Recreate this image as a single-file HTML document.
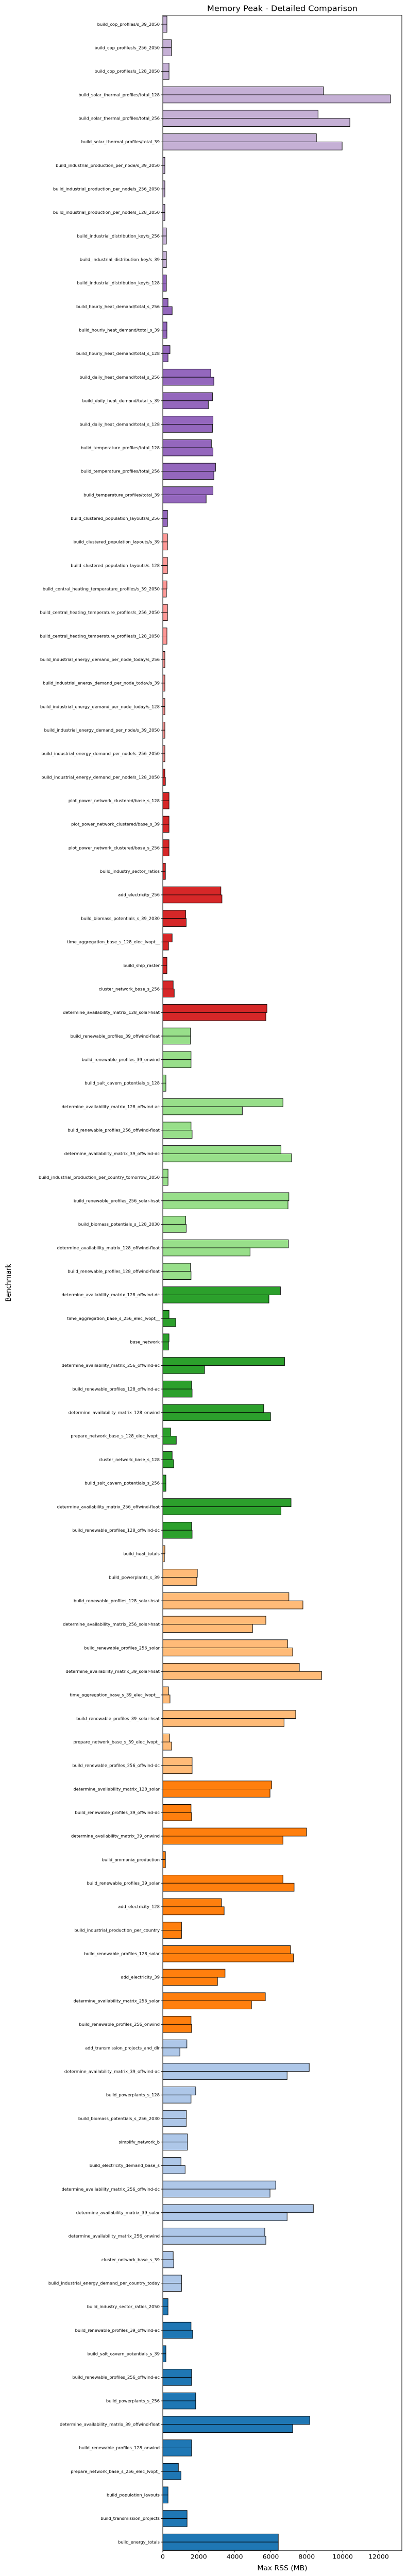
<!DOCTYPE html>
<html><head><meta charset="utf-8"><title>Memory Peak - Detailed Comparison</title>
<style>
html,body{margin:0;padding:0;background:#fff;width:100%;height:100%;overflow:hidden;}
svg{display:block;position:fixed;left:0;top:0;width:100vw;height:100vh;font-family:"DejaVu Sans","Liberation Sans",sans-serif;}
</style></head>
<body>
<svg id="chart" width="790" height="5390" viewBox="0 0 790 5390" preserveAspectRatio="none" xmlns="http://www.w3.org/2000/svg">
<text x="548" y="23" font-size="16" text-anchor="middle" fill="#000">Memory Peak - Detailed Comparison</text>
<text x="0" y="0" font-size="13.9" text-anchor="middle" fill="#000" transform="translate(21,2684) rotate(-90)">Benchmark</text>
<text x="548" y="5378" font-size="13.9" text-anchor="middle" fill="#000">Max RSS (MB)</text>
<g id="bars"></g>
<g id="yticks"></g>
<g id="xticks"></g>
<rect x="316" y="32" width="464" height="5305" fill="none" stroke="#000" stroke-width="1"/>
</svg>
<script>
const categories = [
"build_cop_profiles/s_39_2050","build_cop_profiles/s_256_2050","build_cop_profiles/s_128_2050",
"build_solar_thermal_profiles/total_128","build_solar_thermal_profiles/total_256","build_solar_thermal_profiles/total_39",
"build_industrial_production_per_node/s_39_2050","build_industrial_production_per_node/s_256_2050","build_industrial_production_per_node/s_128_2050",
"build_industrial_distribution_key/s_256","build_industrial_distribution_key/s_39","build_industrial_distribution_key/s_128",
"build_hourly_heat_demand/total_s_256","build_hourly_heat_demand/total_s_39","build_hourly_heat_demand/total_s_128",
"build_daily_heat_demand/total_s_256","build_daily_heat_demand/total_s_39","build_daily_heat_demand/total_s_128",
"build_temperature_profiles/total_128","build_temperature_profiles/total_256","build_temperature_profiles/total_39",
"build_clustered_population_layouts/s_256","build_clustered_population_layouts/s_39","build_clustered_population_layouts/s_128",
"build_central_heating_temperature_profiles/s_39_2050","build_central_heating_temperature_profiles/s_256_2050","build_central_heating_temperature_profiles/s_128_2050",
"build_industrial_energy_demand_per_node_today/s_256","build_industrial_energy_demand_per_node_today/s_39","build_industrial_energy_demand_per_node_today/s_128",
"build_industrial_energy_demand_per_node/s_39_2050","build_industrial_energy_demand_per_node/s_256_2050","build_industrial_energy_demand_per_node/s_128_2050",
"plot_power_network_clustered/base_s_128","plot_power_network_clustered/base_s_39","plot_power_network_clustered/base_s_256",
"build_industry_sector_ratios","add_electricity_256","build_biomass_potentials_s_39_2030","time_aggregation_base_s_128_elec_lvopt__",
"build_ship_raster","cluster_network_base_s_256","determine_availability_matrix_128_solar-hsat",
"build_renewable_profiles_39_offwind-float","build_renewable_profiles_39_onwind","build_salt_cavern_potentials_s_128",
"determine_availability_matrix_128_offwind-ac","build_renewable_profiles_256_offwind-float","determine_availability_matrix_39_offwind-dc",
"build_industrial_production_per_country_tomorrow_2050","build_renewable_profiles_256_solar-hsat","build_biomass_potentials_s_128_2030",
"determine_availability_matrix_128_offwind-float","build_renewable_profiles_128_offwind-float","determine_availability_matrix_128_offwind-dc",
"time_aggregation_base_s_256_elec_lvopt__","base_network","determine_availability_matrix_256_offwind-ac",
"build_renewable_profiles_128_offwind-ac","determine_availability_matrix_128_onwind","prepare_network_base_s_128_elec_lvopt_",
"cluster_network_base_s_128","build_salt_cavern_potentials_s_256","determine_availability_matrix_256_offwind-float",
"build_renewable_profiles_128_offwind-dc","build_heat_totals","build_powerplants_s_39",
"build_renewable_profiles_128_solar-hsat","determine_availability_matrix_256_solar-hsat","build_renewable_profiles_256_solar",
"determine_availability_matrix_39_solar-hsat","time_aggregation_base_s_39_elec_lvopt__","build_renewable_profiles_39_solar-hsat",
"prepare_network_base_s_39_elec_lvopt_","build_renewable_profiles_256_offwind-dc","determine_availability_matrix_128_solar",
"build_renewable_profiles_39_offwind-dc","determine_availability_matrix_39_onwind","build_ammonia_production",
"build_renewable_profiles_39_solar","add_electricity_128","build_industrial_production_per_country",
"build_renewable_profiles_128_solar","add_electricity_39","determine_availability_matrix_256_solar",
"build_renewable_profiles_256_onwind","add_transmission_projects_and_dlr","determine_availability_matrix_39_offwind-ac",
"build_powerplants_s_128","build_biomass_potentials_s_256_2030","simplify_network_b",
"build_electricity_demand_base_s","determine_availability_matrix_256_offwind-dc","determine_availability_matrix_39_solar",
"determine_availability_matrix_256_onwind","cluster_network_base_s_39","build_industrial_energy_demand_per_country_today",
"build_industry_sector_ratios_2050","build_renewable_profiles_39_offwind-ac","build_salt_cavern_potentials_s_39",
"build_renewable_profiles_256_offwind-ac","build_powerplants_s_256","determine_availability_matrix_39_offwind-float",
"build_renewable_profiles_128_onwind","prepare_network_base_s_256_elec_lvopt_","build_population_layouts",
"build_transmission_projects","build_energy_totals"
];
const seriesA = [
230,476,346, 8930,8630,8540, 115,115,115, 200,200,200, 290,230,400, 2670,2760,2790, 2700,2930,2790,
260,260,260, 230,260,230, 115,115,115, 115,115,115, 346,346,346, 145,3230,1270,520,
230,577,5790, 1540,1570,173, 6680,1570,6570, 290,7010,1270, 6980,1540,6540, 346,346,6770,
1600,5610,433, 520,173,7130, 1600,115,1920, 7010,5730,6940, 7590,317,7390, 375,1630,6050,
1570,7990,145, 6680,3260,1040, 7100,3460,5700, 1570,1340,8140, 1830,1310,1370, 1010,6280,8370,
5670,577,1040, 290,1570,173, 1600,1830,8170, 1600,866,290, 1350,6420
];
const seriesB = [
230,476,346, 12660,10400,9970, 115,115,115, 200,200,200, 520,230,290, 2840,2530,2760, 2790,2840,2410,
260,260,260, 200,260,230, 115,115,115, 115,115,145, 346,346,346, 145,3290,1300,317,
230,635,5730, 1540,1570,173, 4420,1630,7160, 290,6960,1300, 4850,1570,5900, 720,317,2320,
1630,5990,750, 606,173,6570, 1630,87,1890, 7790,4990,7220, 8830,400,6740, 490,1630,5960,
1600,6680,145, 7300,3410,1040, 7270,3040,4930, 1600,950,6910, 1570,1300,1370, 1240,5960,6910,
5730,606,1040, 290,1660,173, 1600,1830,7220, 1600,1010,290, 1350,6420
];
const groupColors = ["#c5b0d5","#9467bd","#ff9896","#d62728","#98df8a","#2ca02c","#ffbb78","#ff7f0e","#aec7e8","#1f77b4"];
const groupSizes = [11,11,10,11,11,11,10,11,11,11];
const xTicks = [0,2000,4000,6000,8000,10000,12000];

const NS = "http://www.w3.org/2000/svg";
const AX = {left:316, right:780, top:32, bottom:5337, xmax:13290};
const firstY = 50.7, lastY = 5319;
function xScale(v){ return AX.left + v/AX.xmax*(AX.right-AX.left); }
function yScale(i){ return firstY + i*(lastY-firstY)/(categories.length-1); }
const BARH = 17;
const colorOf = [];
groupSizes.forEach((n,g)=>{ for(let k=0;k<n;k++) colorOf.push(groupColors[g]); });

const bars = document.getElementById('bars');
const yt = document.getElementById('yticks');
categories.forEach((c,i)=>{
  const cy = yScale(i);
  const col = colorOf[i] || "#1f77b4";
  [[seriesA[i], cy-BARH, 'a'],[seriesB[i], cy, 'b']].forEach(([v,y,s])=>{
    const r = document.createElementNS(NS,'rect');
    r.setAttribute('x', AX.left);
    r.setAttribute('y', y);
    r.setAttribute('width', Math.max(0, xScale(v)-AX.left));
    r.setAttribute('height', BARH);
    r.setAttribute('fill', col);
    r.setAttribute('stroke', '#000');
    r.setAttribute('stroke-width', '1');
    
    
    bars.appendChild(r);
  });
  const tk = document.createElementNS(NS,'line');
  tk.setAttribute('x1', AX.left-3.5); tk.setAttribute('x2', AX.left);
  tk.setAttribute('y1', cy); tk.setAttribute('y2', cy);
  tk.setAttribute('stroke', '#000');
  
  
  yt.appendChild(tk);
  const t = document.createElementNS(NS,'text');
  t.setAttribute('x', AX.left-6); t.setAttribute('y', cy+3);
  t.setAttribute('font-size', '8.3');
  t.setAttribute('text-anchor', 'end');
  t.setAttribute('fill', '#000');
  
  
  t.textContent = c;
  yt.appendChild(t);
});
const xt = document.getElementById('xticks');
xTicks.forEach(v=>{
  const x = xScale(v);
  const l = document.createElementNS(NS,'line');
  l.setAttribute('x1', x); l.setAttribute('x2', x);
  l.setAttribute('y1', AX.bottom); l.setAttribute('y2', AX.bottom+3.5);
  l.setAttribute('stroke', '#000');
  
  
  xt.appendChild(l);
  const t = document.createElementNS(NS,'text');
  t.setAttribute('x', x); t.setAttribute('y', AX.bottom+17);
  t.setAttribute('font-size', '12.5');
  t.setAttribute('text-anchor', 'middle');
  t.setAttribute('fill', '#000');
  
  
  t.textContent = String(v);
  xt.appendChild(t);
});
</script>
</body></html>
